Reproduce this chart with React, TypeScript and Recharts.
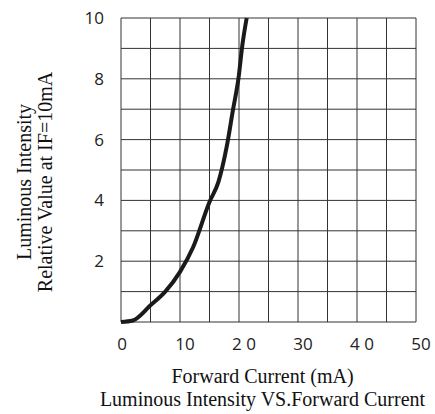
import React from "react";
import {
  LineChart,
  Line,
  CartesianGrid,
  XAxis,
  YAxis,
  Label,
} from "recharts";

// values
const currentMA = [0, 2, 5, 7.5, 10, 12.2, 15, 16.5, 17.9, 19, 19.9, 20.6, 21.3];
const relIntensity = [0, 0.05, 0.55, 1.0, 1.65, 2.45, 3.95, 4.6, 5.75, 7.0, 8.0, 9.15, 10];

const xTicks = [0, 5, 10, 15, 20, 25, 30, 35, 40, 45, 50];
const xTickLabels: Record<number, string> = {
  0: "0",
  10: "10",
  20: "2 0",
  30: "30",
  40: "4 0",
  50: "50",
};
const yTicks = [0, 1, 2, 3, 4, 5, 6, 7, 8, 9, 10];
const yTickLabels: Record<number, string> = {
  2: "2",
  4: "4",
  6: "6",
  8: "8",
  10: "10",
};

const data = currentMA.map((c, i) => ({ current: c, value: relIntensity[i] }));

const tickFont = "'Open Sans', 'Noto Sans', sans-serif";
const titleFont = "'Liberation Serif', 'DejaVu Serif', serif";

const XTick = (props: any) => {
  const { x, y, payload } = props;
  const label = xTickLabels[payload.value];
  if (!label) return null;
  const dx = payload.value === 0 ? 1 : 5;
  return (
    <text
      x={x + dx}
      y={y + 20}
      textAnchor="middle"
      fontFamily={tickFont}
      fontSize={17}
      fill="#222"
    >
      {label}
    </text>
  );
};

const YTick = (props: any) => {
  const { y, payload } = props;
  const label = yTickLabels[payload.value];
  if (!label) return null;
  return (
    <text
      x={104}
      y={y + 6}
      textAnchor="end"
      fontFamily={tickFont}
      fontSize={17}
      fill="#222"
    >
      {label}
    </text>
  );
};

const XTitle = (props: any) => {
  const vb = props.viewBox;
  const cx = vb.x + vb.width / 2 - 6;
  return (
    <g fontFamily={titleFont} fontSize={20} fill="#111">
      <text x={cx} y={383} textAnchor="middle">
        Forward Current (mA)
      </text>
      <text x={cx} y={406} textAnchor="middle">
        Luminous Intensity VS.Forward Current
      </text>
    </g>
  );
};

const YTitle = (props: any) => {
  const vb = props.viewBox;
  const cy = vb.y + vb.height / 2 + 12;
  return (
    <g fontFamily={titleFont} fontSize={20} fill="#111">
      <text x={31} y={cy} textAnchor="middle" transform={`rotate(-90, 31, ${cy})`}>
        Luminous Intensity
      </text>
      <text x={52} y={cy} textAnchor="middle" transform={`rotate(-90, 52, ${cy})`}>
        Relative Value at IF=10mA
      </text>
    </g>
  );
};

export default function App() {
  return (
    <div style={{ position: "absolute", left: 0, top: 0 }}>
      <LineChart
        width={435}
        height={414}
        data={data}
        margin={{ top: 18, right: 19, bottom: 0, left: 0 }}
      >
        <CartesianGrid stroke="#333" strokeWidth={1} />
        <XAxis
          dataKey="current"
          type="number"
          domain={[0, 50]}
          ticks={xTicks}
          interval={0}
          height={92}
          axisLine={false}
          tickLine={false}
          tick={<XTick />}
        >
          <Label content={<XTitle />} />
        </XAxis>
        <YAxis
          type="number"
          domain={[0, 10]}
          ticks={yTicks}
          interval={0}
          width={121}
          axisLine={false}
          tickLine={false}
          tick={<YTick />}
        >
          <Label content={<YTitle />} />
        </YAxis>
        <Line
          type="monotone"
          dataKey="value"
          stroke="#1a1a1a"
          strokeWidth={4}
          dot={false}
          isAnimationActive={false}
        />
      </LineChart>
    </div>
  );
}
